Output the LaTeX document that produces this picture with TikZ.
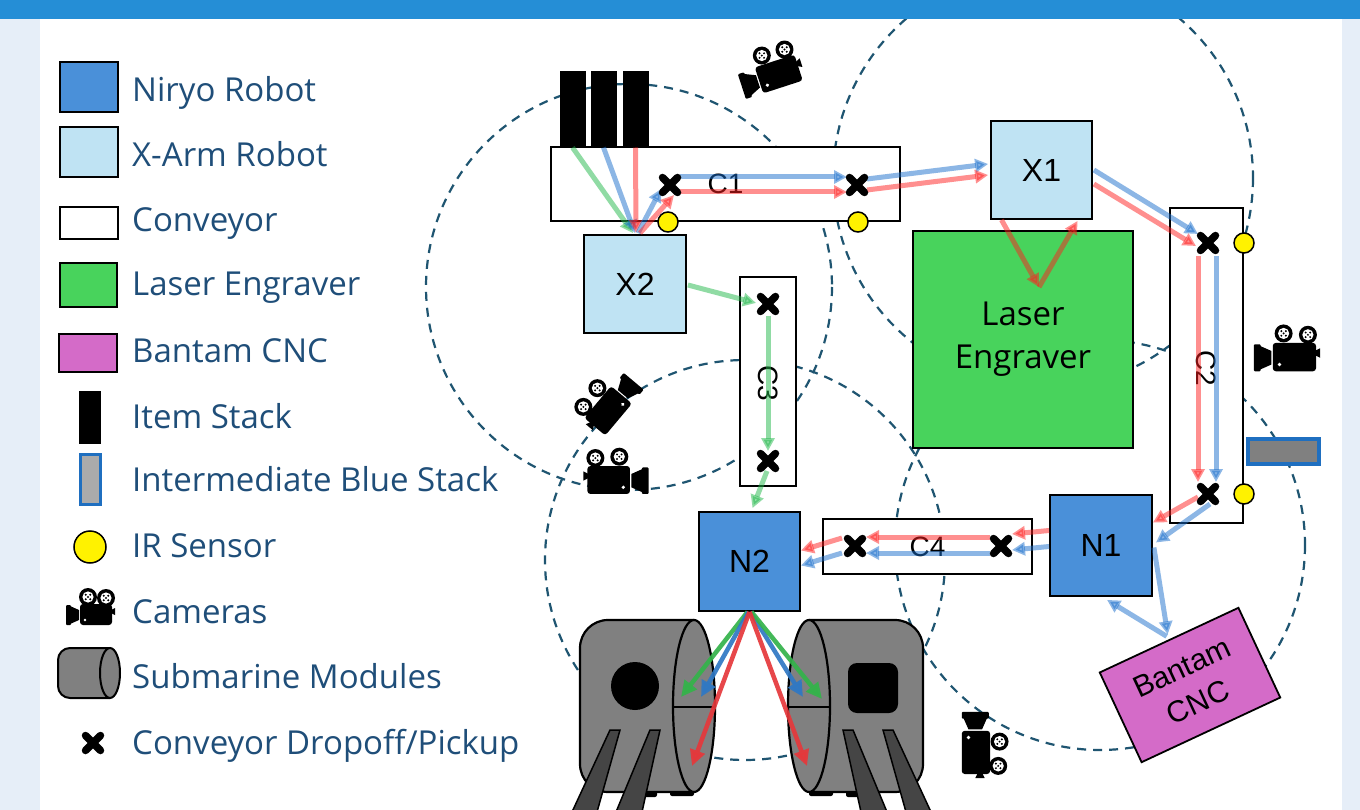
\documentclass[tikz,border=0pt]{standalone}
\usepackage{fontspec}
\setmainfont{Open Sans}
\newfontfamily\labelfont{Liberation Sans}
\usetikzlibrary{arrows.meta,calc}

\definecolor{topbar}{HTML}{258ED6}
\definecolor{pagebg}{HTML}{E6EEF8}
\definecolor{legendtxt}{HTML}{1F4E79}
\definecolor{niryo}{HTML}{4A90D9}
\definecolor{xarm}{HTML}{BFE3F3}
\definecolor{laser}{HTML}{48D35C}
\definecolor{bantam}{HTML}{D46BC8}
\definecolor{ringc}{HTML}{1F5571}
\definecolor{flowred}{HTML}{FF2020}
\definecolor{flowblue}{HTML}{1A6FCD}
\definecolor{flowgreen}{HTML}{22B94B}
\definecolor{modred}{HTML}{E5383B}
\definecolor{modblue}{HTML}{2F78C4}
\definecolor{modgreen}{HTML}{34B34A}
\definecolor{stackblue}{HTML}{1F6FC0}
\definecolor{modgray}{HTML}{808080}
\definecolor{leggray}{HTML}{454545}
\definecolor{irsensor}{HTML}{FFF200}

\tikzset{
  unitbox/.style={draw=black, line width=1.8pt, inner sep=0pt, font=\labelfont\fontsize{32}{36}\selectfont},
  niryobox/.style={unitbox, fill=niryo, minimum width=101pt, minimum height=100pt},
  xarmbox/.style={unitbox, fill=xarm, minimum width=101pt, minimum height=98pt},
  convbox/.style={unitbox, fill=white, font=\labelfont\fontsize{28}{32}\selectfont},
  convlabel/.style={inner sep=0pt, font=\labelfont\fontsize{28}{32}\selectfont, rotate=-90},
  stackbar/.style={draw=black, fill=black, line width=1pt, inner sep=0pt, minimum width=25pt, minimum height=75pt},
  sensor/.style={circle, draw=black, line width=1.5pt, fill=irsensor, minimum size=20pt, inner sep=0pt},
  ring/.style={draw=ringc, line width=2.2pt, dash pattern=on 9pt off 7pt},
  flow/.style={line width=5pt, opacity=0.5, -{Triangle[length=13pt,width=13pt]}},
  flowR/.style={flow, color=flowred},
  flowB/.style={flow, color=flowblue},
  flowG/.style={flow, color=flowgreen},
  feed/.style={line width=4.5pt, opacity=0.92, -{Triangle[length=16pt,width=15pt]}},
  legtext/.style={anchor=base west, text=legendtxt, font=\fontsize{33}{38}\selectfont, inner sep=0pt},
  legbox/.style={draw=black, line width=2.5pt, inner sep=0pt, minimum width=58pt},
  camreel/.pic={
    \fill[black] (0,0) circle[radius=9];
    \fill[white] (0,0) circle[radius=5.6];
    \fill[black] (0,0) circle[radius=1.1];
    \foreach \a in {45,135,225,315} \fill[black] (\a:3.2) circle[radius=1.1];
  },
  movcam/.pic={
    \fill[black] (-13,0) -- (-22,-4) -- (-22,14) -- (-13,10) -- cycle;
    \fill[black, rounded corners=1pt] (-26,-5) rectangle (-21,15);
    \fill[black, rounded corners=3pt] (-12,-6) rectangle (20,15);
    \fill[black] (19,0) -- (23,-2) -- (23,5) -- (19,3) -- cycle;
    \fill[white] (-7,10) circle[radius=1.4];
    \pic at (-4,-13) {camreel};
    \pic at (14,-12) {camreel};
  },
  xcross/.pic={
    \draw[line width=7.5pt, line cap=round] (-7.5,-7.5) -- (7.5,7.5) (-7.5,7.5) -- (7.5,-7.5);
  },
  submod/.pic={
    \fill[black, rounded corners=2pt] (-56,83) rectangle (-37,91);
    \fill[black, rounded corners=2pt] (-24,83) rectangle (0,90);
    \fill[modgray] (0,-86) -- (-86,-86) .. controls (-101.5,-86) and (-114,-73.5) .. (-114,-58)
      -- (-114,58) .. controls (-114,73.5) and (-101.5,86) .. (-86,86) -- (0,86) -- cycle;
    \draw[line width=2.2pt] (0,-86) -- (-86,-86) .. controls (-101.5,-86) and (-114,-73.5) .. (-114,-58)
      -- (-114,58) .. controls (-114,73.5) and (-101.5,86) .. (-86,86) -- (0,86);
    \draw[line width=2.2pt, fill=modgray] (0,0) ellipse[x radius=21, y radius=86];
    \draw[line width=2pt] (-21,1) -- (21,1);
    \draw[line width=1.5pt, fill=leggray] (-122,106) -- (-97,106) -- (-74,24) -- (-84,24) -- cycle;
    \draw[line width=1.5pt, fill=leggray] (-78,106) -- (-52,106) -- (-34,24) -- (-44,24) -- cycle;
  },
}

\begin{document}
\begin{tikzpicture}[x=1pt, y=-1pt]
\useasboundingbox (0,0) rectangle (1360,810);
% page background, panel and header bar
\fill[pagebg] (0,0) rectangle (1360,810);
\fill[white] (40,19) rectangle (1342,810);

% working ranges of the robots
\begin{scope}
  \clip (40,19) rectangle (1342,810);
  \draw[ring] (629,287) circle[radius=203];
  \draw[ring] (1043,178) circle[radius=210];
  \draw[ring] (745,560) circle[radius=200];
  \draw[ring] (1100,545) circle[radius=205];
\end{scope}
\fill[topbar] (0,0) rectangle (1360,19);

% ---------------- legend ----------------
\node[legbox, fill=niryo, minimum height=50pt] (lgNiryo) at (89,87) {};
\node[legtext] (ltNiryo) at (132,102) {Niryo Robot};
\node[legbox, fill=xarm, minimum height=50pt] (lgXarm) at (89,152) {};
\node[legtext] (ltXarm) at (132,167) {X-Arm Robot};
\node[legbox, fill=white, minimum height=32pt] (lgConv) at (89,223) {};
\node[legtext] (ltConv) at (132,232) {Conveyor};
\node[legbox, fill=laser, minimum width=57pt, minimum height=44pt] (lgLaser) at (88.5,285) {};
\node[legtext] (ltLaser) at (132,296) {Laser Engraver};
\node[legbox, fill=bantam, minimum height=38pt] (lgBantam) at (88,353) {};
\node[legtext] (ltBantam) at (132,362) {Bantam CNC};
\node[stackbar, minimum width=21pt, minimum height=52pt] (lgStack) at (89.5,417) {};
\node[legtext] (ltStack) at (132,428) {Item Stack};
\node[draw=stackblue, line width=3pt, fill=black!33, inner sep=0pt, minimum width=20pt, minimum height=50pt] (lgBlue) at (90,479) {};
\node[legtext] (ltBlue) at (132,491) {Intermediate Blue Stack};
\node[sensor, minimum size=32pt] (lgIR) at (90,547) {};
\node[legtext] (ltIR) at (132,557) {IR Sensor};
\pic at (92,610) {movcam};
\node[legtext] (ltCam) at (132,623) {Cameras};
\fill[modgray] (110,648) -- (70,648) .. controls (63.4,648) and (58,653.4) .. (58,660) -- (58,686)
  .. controls (58,692.6) and (63.4,698) .. (70,698) -- (110,698) -- cycle;
\draw[line width=2pt] (110,648) -- (70,648) .. controls (63.4,648) and (58,653.4) .. (58,660) -- (58,686)
  .. controls (58,692.6) and (63.4,698) .. (70,698) -- (110,698);
\draw[line width=2pt, fill=modgray] (110,673) ellipse[x radius=10, y radius=25];
\node[legtext] (ltSub) at (132,688) {Submarine Modules};
\pic at (93,743) {xcross};
\node[legtext] (ltDrop) at (132,754) {Conveyor Dropoff/Pickup};

% ---------------- cell layout ----------------
\node[stackbar] (s1) at (572.5,109.5) {};
\node[stackbar] (s2) at (603.5,109.5) {};
\node[stackbar] (s3) at (635.5,109.5) {};

\node[convbox, minimum width=349pt, minimum height=74pt] (C1) at (725.5,184) {C1};
\node[convbox, minimum width=73pt, minimum height=315pt] (C2) at (1206.5,365.5) {};
\node[convlabel] (C2lbl) at (1206.5,368) {C2};
\node[convbox, minimum width=56pt, minimum height=209pt] (C3) at (768,381.5) {};
\node[convlabel] (C3lbl) at (768,383) {C3};
\node[convbox, minimum width=209pt, minimum height=55pt] (C4) at (927.5,546.5) {C4};

\node[xarmbox] (X1) at (1041.5,170) {X1};
\node[xarmbox, minimum width=102pt] (X2) at (635,284) {X2};
\node[niryobox, minimum width=102pt, minimum height=101pt] (N1) at (1101,545.5) {N1};
\node[niryobox, minimum height=99pt] (N2) at (749.5,561.5) {N2};
\node[unitbox, fill=laser, minimum width=220pt, minimum height=217pt, align=center,
      font=\fontsize{33}{43}\selectfont] (LE) at (1023,339.5) {Laser\\Engraver};
\node[unitbox, fill=bantam, rotate=25, minimum width=153pt, minimum height=99pt, align=center,
      font=\labelfont\fontsize{30}{38}\selectfont] (CNC) at (1190,685) {Bantam\\CNC};

% pick and drop points on the conveyors
\coordinate (c1in) at (670,185);
\coordinate (c1out) at (857,185);
\coordinate (c2in) at (1208,243);
\coordinate (c2out) at (1208,494);
\coordinate (c3in) at (768,304);
\coordinate (c3out) at (768,461);
\coordinate (c4in) at (1001,546);
\coordinate (c4out) at (855,546);
\coordinate (lzr) at ($(LE.north)+(16,57)$);

% ---------------- material flow ----------------
\draw[flowG] (s1.south) -- ($(X2.north)+(-2,-1)$);
\draw[flowB] (s2.south) -- ($(X2.north)+(0,-1)$);
\draw[flowR] (s3.south) -- ($(X2.north)+(1,-1)$);
\draw[flowB] ($(X2.north)+(3,-1)$) -- ($(c1in)+(-9,4)$);
\draw[flowR] ($(X2.north)+(5,-1)$) -- ($(c1in)+(4,10)$);
\draw[flowB] ($(c1in)+(10,-8)$) -- ($(c1out)+(-10,-8)$);
\draw[flowR] ($(c1in)+(10,7)$) -- ($(c1out)+(-10,7)$);
\draw[flowB] ($(c1out)+(10,-6)$) -- ($(X1.west)+(-2,-6)$);
\draw[flowR] ($(c1out)+(10,5)$) -- ($(X1.west)+(-2,5)$);
\draw[flowR] ($(X1.south)+(-40,0)$) -- (lzr);
\draw[flowR] (lzr) -- ($(X1.south)+(36,1)$);
\draw[flowB] ($(X1.east)+(1,0)$) -- ($(c2in)+(-10,-9)$);
\draw[flowR] ($(X1.east)+(1,14)$) -- ($(c2in)+(-12,3)$);
\draw[flowR] ($(c2in)+(-10,13)$) -- ($(c2out)+(-10,-12)$);
\draw[flowB] ($(c2in)+(8,13)$) -- ($(c2out)+(8,-12)$);
\draw[flowR] ($(c2out)+(-10,3)$) -- ($(N1.east)+(0,-23)$);
\draw[flowB] ($(c2out)+(2,10)$) -- ($(N1.east)+(3,-3)$);
\draw[flowB] ($(N1.east)+(1,2)$) -- ($(CNC.north)+(-1,-5)$);
\draw[flowB] ($(CNC.north)+(-2,-3)$) -- ($(N1.south)+(6,3)$);
\draw[flowR] ($(N1.west)+(0,-15)$) -- ($(c4in)+(11,-12)$);
\draw[flowB] ($(N1.west)+(0,1)$) -- ($(c4in)+(11,4)$);
\draw[flowR] ($(c4in)+(-11,-9)$) -- ($(c4out)+(11,-9)$);
\draw[flowB] ($(c4in)+(-11,7)$) -- ($(c4out)+(11,7)$);
\draw[flowR] ($(c4out)+(-13,-8)$) -- ($(N2.east)+(0,-11)$);
\draw[flowB] ($(c4out)+(-13,7)$) -- ($(N2.east)+(0,4)$);
\draw[flowG] ($(X2.east)+(1,1)$) -- ($(c3in)+(-12,-1)$);
\draw[flowG] ($(c3in)+(0,12)$) -- ($(c3out)+(0,-10)$);
\draw[flowG] ($(c3out)+(-1,10)$) -- ($(N2.north)+(3,-3)$);

% drop/pick marks and IR sensors
\foreach \p in {c1in,c1out,c2in,c2out,c3in,c3out,c4in,c4out} \pic at (\p) {xcross};
\node[sensor] (ir1) at (668,222) {};
\node[sensor] (ir2) at (858,222) {};
\node[sensor] (ir3) at (1244,243) {};
\node[sensor] (ir4) at (1244,494) {};

% intermediate blue stack
\node[draw=stackblue, line width=4pt, fill=modgray, inner sep=0pt, minimum width=71pt, minimum height=25pt] (bstack) at (1283.5,451) {};

% cameras
\pic[scale=1.3, rotate=18] at (772,70) {movcam};
\pic[scale=1.35] at (1289,351) {movcam};
\pic[scale=1.3, rotate=50, xscale=-1] at (607,403) {movcam};
\pic[scale=1.33, xscale=-1] at (614,474) {movcam};
\pic[scale=1.35, rotate=-90] at (982,747) {movcam};

% submarine modules
\pic at (694,706) {submod};
\fill[black] (635,686) circle[radius=24];
\pic[xscale=-1] at (809,706) {submod};
\fill[black, rounded corners=9pt] (848,663) rectangle (898,713);

% hand-over from N2 into the modules
\coordinate (lmG) at (681,697);
\coordinate (lmB) at (701,697);
\coordinate (lmR) at (692,766);
\coordinate (rmB) at (803,697);
\coordinate (rmG) at (822,699);
\coordinate (rmR) at (807,766);
\draw[feed, color=modgreen] ($(N2.south)+(-2,0)$) -- (lmG);
\draw[feed, color=modblue] ($(N2.south)+(-1,0)$) -- (lmB);
\draw[feed, color=modred] (N2.south) -- (lmR);
\draw[feed, color=modblue] ($(N2.south)+(1,0)$) -- (rmB);
\draw[feed, color=modgreen] ($(N2.south)+(2,0)$) -- (rmG);
\draw[feed, color=modred] (N2.south) -- (rmR);
\end{tikzpicture}
\end{document}
